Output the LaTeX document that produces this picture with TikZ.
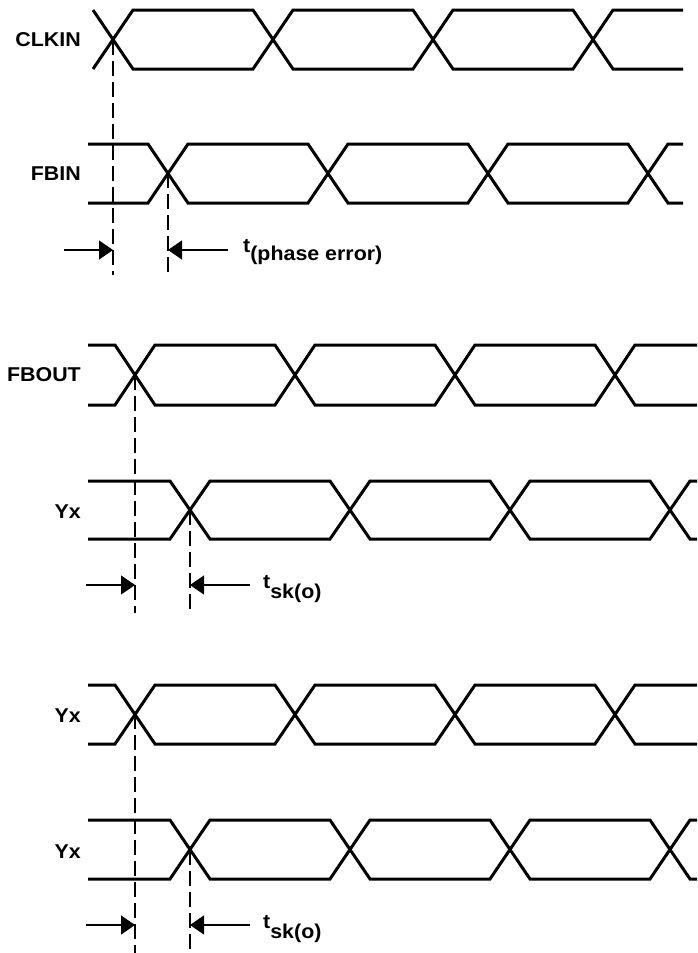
\documentclass[tikz,border=0pt]{standalone}
\usepackage{fontspec}
\setmainfont{Liberation Sans}[FakeStretch=1.07]
\usetikzlibrary{arrows.meta}
\tikzset{
  wave/.style={line width=3pt, line join=miter, line cap=butt},
  guide/.style={line width=1.1pt, dash pattern=on 15pt off 6pt},
  arr/.style={line width=1.1pt, -{Triangle[length=14pt,width=19pt]}},
  lbl/.style={anchor=base east, inner sep=0pt, font=\fontsize{20}{23}\selectfont\bfseries},
  tlbl/.style={anchor=base west, inner sep=0pt, font=\fontsize{20}{23}\selectfont\bfseries}
}
\newcommand\wclk[2]{%
  \draw[wave] (93,#1)--(133,#2)--(253,#2)--(293,#1)--(413,#1)--(453,#2)--(573,#2)--(613,#1)--(683,#1);
  \draw[wave] (93,#2)--(133,#1)--(253,#1)--(293,#2)--(413,#2)--(453,#1)--(573,#1)--(613,#2)--(683,#2);}
\newcommand\wfbin[2]{%
  \draw[wave] (88,#1)--(148,#1)--(188,#2)--(308,#2)--(348,#1)--(468,#1)--(508,#2)--(628,#2)--(668,#1)--(683,#1);
  \draw[wave] (88,#2)--(148,#2)--(188,#1)--(308,#1)--(348,#2)--(468,#2)--(508,#1)--(628,#1)--(668,#2)--(683,#2);}
\newcommand\wearly[2]{%
  \draw[wave] (88,#1)--(115,#1)--(155,#2)--(275,#2)--(315,#1)--(435,#1)--(475,#2)--(595,#2)--(635,#1)--(697,#1);
  \draw[wave] (88,#2)--(115,#2)--(155,#1)--(275,#1)--(315,#2)--(435,#2)--(475,#1)--(595,#1)--(635,#2)--(697,#2);}
\newcommand\wlate[2]{%
  \draw[wave] (88,#1)--(170,#1)--(210,#2)--(330,#2)--(370,#1)--(490,#1)--(530,#2)--(650,#2)--(690,#1)--(697,#1);
  \draw[wave] (88,#2)--(170,#2)--(210,#1)--(330,#1)--(370,#2)--(490,#2)--(530,#1)--(650,#1)--(690,#2)--(697,#2);}
\begin{document}
\begin{tikzpicture}[x=1pt,y=-1pt]
\useasboundingbox (0,0) rectangle (697,953);
% waveforms
\wclk{10}{69}
\wfbin{144}{203}
\wearly{345}{405}
\wlate{481}{539}
\wearly{685}{744}
\wlate{820}{879}
% labels
\node[lbl] (lclk) at (81,46) {CLKIN};
\node[lbl] (lfbin) at (81,180) {FBIN};
\node[lbl] (lfbout) at (81,381) {FBOUT};
\node[lbl] (lyx1) at (81,518) {Yx};
\node[lbl] (lyx2) at (81,722) {Yx};
\node[lbl] (lyx3) at (81,858) {Yx};
% guide coordinates
\coordinate (g1a) at (113,40);  \coordinate (g1b) at (113,275);
\coordinate (g2a) at (168,173); \coordinate (g2b) at (168,275);
\coordinate (g3a) at (135,375); \coordinate (g3b) at (135,613);
\coordinate (g4a) at (190,510); \coordinate (g4b) at (190,613);
\coordinate (g5a) at (135,714); \coordinate (g5b) at (135,953);
\coordinate (g6a) at (190,850); \coordinate (g6b) at (190,953);
\draw[guide] (g1a) -- (g1b);
\draw[guide] (g2a) -- (g2b);
\draw[guide] (g3a) -- (g3b);
\draw[guide] (g4a) -- (g4b);
\draw[guide] (g5a) -- (g5b);
\draw[guide] (g6a) -- (g6b);
% arrows
\coordinate (a1s) at (64,250);  \coordinate (a1e) at (113,250);
\coordinate (a2s) at (228,250); \coordinate (a2e) at (168,250);
\coordinate (a3s) at (86,585);  \coordinate (a3e) at (135,585);
\coordinate (a4s) at (250,585); \coordinate (a4e) at (190,585);
\coordinate (a5s) at (86,925);  \coordinate (a5e) at (135,925);
\coordinate (a6s) at (250,925); \coordinate (a6e) at (190,925);
\draw[arr] (a1s) -- (a1e);
\draw[arr] (a2s) -- (a2e);
\draw[arr] (a3s) -- (a3e);
\draw[arr] (a4s) -- (a4e);
\draw[arr] (a5s) -- (a5e);
\draw[arr] (a6s) -- (a6e);
% timing labels
\node[tlbl] (tpe) at (243,252) {t\raisebox{-8pt}{(phase error)}};
\node[tlbl] (tsk1) at (263,588) {t\raisebox{-10pt}{sk(o)}};
\node[tlbl] (tsk2) at (263,928) {t\raisebox{-10pt}{sk(o)}};
\end{tikzpicture}
\end{document}
